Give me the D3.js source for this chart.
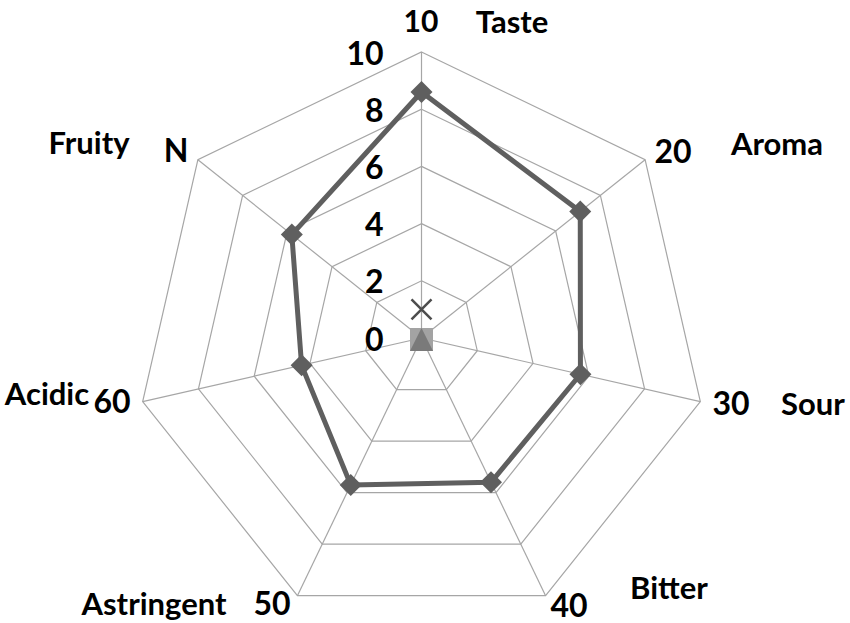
<!DOCTYPE html>
<html>
<head>
<meta charset="utf-8">
<script src="https://cdn.jsdelivr.net/npm/d3@7"></script>
<style>
  body { margin: 0; background: #fff; }
  svg { display: block; }
  text { font-family: Lato, "Open Sans", sans-serif; font-weight: 700; fill: #000; }
</style>
</head>
<body>
<svg id="chart" width="850" height="623"></svg>
<script>
// ---- data ----
const categories = ["Taste", "Aroma", "Sour", "Bitter", "Astringent", "Acidic", "Fruity"];
const categoryCodes = ["10", "20", "30", "40", "50", "60", "N"];
const mainValues = [8.6, 7.1, 5.7, 5.6, 5.7, 4.3, 5.8];
const crossValues = [1.0];          // single X marker on Taste axis
const zeroValues = [0];             // square / triangle markers at the centre
const ringTicks = [0, 2, 4, 6, 8, 10];

// ---- layout ----
const cx = 421.5, cy = 338, R = 286;
const svg = d3.select("#chart");
const n = categories.length;
const angle = d3.scaleLinear().domain([0, n]).range([0, 2 * Math.PI]);
const r = d3.scaleLinear().domain([0, 10]).range([0, R]);
const pt = (i, v) => [cx + r(v) * Math.sin(angle(i)), cy - r(v) * Math.cos(angle(i))];

const g = svg.append("g");

// rings
ringTicks.filter(t => t > 0).forEach(t => {
  g.append("path")
    .attr("d", d3.line()(d3.range(n).map(i => pt(i, t))) + "Z")
    .attr("fill", "none").attr("stroke", "#a6a6a6").attr("stroke-width", 1.2);
});
// spokes
d3.range(n).forEach(i => {
  const p = pt(i, 10);
  g.append("line").attr("x1", cx).attr("y1", cy).attr("x2", p[0]).attr("y2", p[1])
    .attr("stroke", "#a6a6a6").attr("stroke-width", 1.2);
});

// ring tick labels
ringTicks.forEach(t => {
  g.append("text").attr("x", cx - 38).attr("y", cy - r(t) + 12.5)
    .attr("text-anchor", "end").attr("font-size", 32).text(t);
});

// category code labels & names
const codePos = [[421, 32], [673, 163], [731, 415], [569, 617], [272, 615], [112, 413], [176, 162]];
const namePos = [[512, 33], [777, 155], [813, 415], [669, 599], [154, 615], [47, 405], [89, 154]];
categoryCodes.forEach((c, i) => {
  g.append("text").attr("x", codePos[i][0]).attr("y", codePos[i][1])
    .attr("text-anchor", "middle").attr("font-size", i === 0 ? 30 : 32).text(c);
});
categories.forEach((c, i) => {
  g.append("text").attr("x", namePos[i][0]).attr("y", namePos[i][1])
    .attr("text-anchor", "middle").attr("font-size", 31).text(c);
});

// centre square + triangle markers
zeroValues.forEach(v => {
  const p = pt(0, v);
  g.append("rect").attr("x", p[0] - 11.5).attr("y", p[1] - 10).attr("width", 23).attr("height", 23)
    .attr("fill", "#a3a3a3");
  g.append("path")
    .attr("d", `M${p[0]},${p[1] - 10}L${p[0] + 11.5},${p[1] + 13}L${p[0] - 11.5},${p[1] + 13}Z`)
    .attr("fill", "#7a7a7a");
});

// cross marker
crossValues.forEach((v, i) => {
  const p = pt(i, v);
  const s = 10;
  g.append("path")
    .attr("d", `M${p[0] - s},${p[1] - s}L${p[0] + s},${p[1] + s}M${p[0] + s},${p[1] - s}L${p[0] - s},${p[1] + s}`)
    .attr("stroke", "#4d4d4d").attr("stroke-width", 2.5).attr("fill", "none");
});

// main series
const pts = mainValues.map((v, i) => pt(i, v));
g.append("path").attr("d", d3.line()(pts) + "Z")
  .attr("fill", "none").attr("stroke", "#5f5f5f").attr("stroke-width", 5).attr("stroke-linejoin", "round");
g.selectAll(".dia").data(pts).enter().append("path")
  .attr("d", d => `M${d[0]},${d[1] - 11}L${d[0] + 11},${d[1]}L${d[0]},${d[1] + 11}L${d[0] - 11},${d[1]}Z`)
  .attr("fill", "#5f5f5f");
</script>
</body>
</html>
